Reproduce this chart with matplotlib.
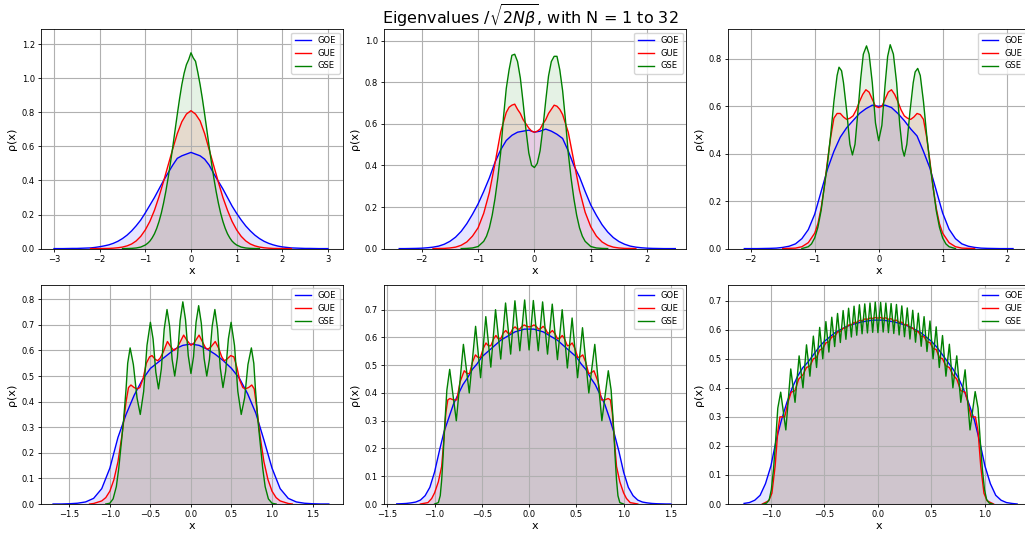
import numpy as np
import matplotlib
matplotlib.use("Agg")
import matplotlib.pyplot as plt

# ---------------- data ----------------
# N = 1
n1_goe_x = np.linspace(-3.0, 3.0, 61)
n1_goe = [0, 0, 0, 0.0005, 0.001, 0.001, 0.002, 0.003, 0.004, 0.007,
          0.011, 0.016, 0.022, 0.031, 0.043, 0.059, 0.079, 0.104, 0.134, 0.168,
          0.21, 0.255, 0.30, 0.35, 0.40, 0.445, 0.49, 0.53, 0.545, 0.555,
          0.565,
          0.555, 0.545, 0.525, 0.49, 0.44, 0.395, 0.35, 0.30, 0.25, 0.207,
          0.168, 0.133, 0.104, 0.079, 0.059, 0.043, 0.031, 0.022, 0.015, 0.010,
          0.007, 0.004, 0.003, 0.002, 0.001, 0.001, 0.0005, 0, 0, 0]
n1_gue_x = np.linspace(-2.2, 2.2, 45)
n1_gue = [0, 0, 0.0003, 0.0005, 0.001, 0.0025, 0.005, 0.009, 0.016, 0.027,
          0.045, 0.072, 0.11, 0.16, 0.225, 0.305, 0.395, 0.49, 0.585, 0.675,
          0.745, 0.79, 0.81,
          0.79, 0.75, 0.675, 0.58, 0.485, 0.39, 0.30, 0.225, 0.16, 0.11,
          0.072, 0.045, 0.027, 0.016, 0.009, 0.005, 0.0025, 0.001, 0.0005, 0.0003,
          0, 0]
n1_gse_x = [-1.5, -1.4, -1.3, -1.2, -1.1, -1.0, -0.95, -0.9, -0.85, -0.8,
            -0.75, -0.7, -0.65, -0.6, -0.55, -0.5, -0.45, -0.4, -0.35, -0.3,
            -0.25, -0.2, -0.15, -0.1, -0.05, 0.0, 0.05, 0.1, 0.15, 0.2,
            0.25, 0.3, 0.35, 0.4, 0.45, 0.5, 0.55, 0.6, 0.65, 0.7,
            0.75, 0.8, 0.85, 0.9, 0.95, 1.0, 1.1, 1.2, 1.3, 1.4, 1.5]
n1_gse = [0, 0.0004, 0.0013, 0.0036, 0.009, 0.021, 0.031, 0.044, 0.063, 0.087,
          0.119, 0.159, 0.208, 0.268, 0.337, 0.416, 0.503, 0.595, 0.692, 0.788,
          0.88, 0.963, 1.03, 1.08, 1.11, 1.15, 1.12, 1.10, 1.035, 0.963,
          0.88, 0.788, 0.692, 0.595, 0.503, 0.416, 0.337, 0.268, 0.208, 0.159,
          0.119, 0.087, 0.063, 0.044, 0.031, 0.021, 0.009, 0.0036, 0.0013, 0.0004, 0]

# N = 2
n2_goe_x = np.linspace(-2.4, 2.5, 50)
n2_goe = [0, 0, 0.0005, 0.001, 0.002, 0.004, 0.007, 0.012, 0.021, 0.035,
          0.055, 0.083, 0.12, 0.165, 0.215, 0.275, 0.34, 0.415, 0.475, 0.52,
          0.545, 0.56, 0.565, 0.57,
          0.56,
          0.565, 0.575, 0.565, 0.55, 0.53, 0.47, 0.40, 0.345, 0.275, 0.21,
          0.16, 0.115, 0.08, 0.053, 0.034, 0.021, 0.012, 0.007, 0.004, 0.002,
          0.001, 0.0005, 0, 0, 0]
n2_gue_x = [-1.8, -1.6, -1.5, -1.4, -1.3, -1.2, -1.1, -1.0, -0.9, -0.8,
            -0.7, -0.6, -0.5, -0.45, -0.4, -0.35, -0.3, -0.25, -0.2, -0.15,
            -0.1, -0.05, 0.0, 0.05, 0.1, 0.15, 0.2, 0.25, 0.3, 0.35,
            0.4, 0.45, 0.5, 0.6, 0.7, 0.8, 0.9, 1.0, 1.1, 1.2,
            1.3, 1.4, 1.5, 1.6, 1.8]
n2_gue = [0, 0.001, 0.003, 0.007, 0.016, 0.032, 0.06, 0.10, 0.17, 0.27,
          0.41, 0.56, 0.655, 0.68, 0.69, 0.695, 0.67, 0.65, 0.62, 0.60,
          0.58, 0.565, 0.56, 0.565, 0.575, 0.60, 0.62, 0.65, 0.67, 0.69,
          0.685, 0.67, 0.645, 0.56, 0.42, 0.28, 0.175, 0.105, 0.06, 0.032,
          0.016, 0.007, 0.003, 0.001, 0]
n2_gse_x = [-1.3, -1.2, -1.1, -1.0, -0.9, -0.85, -0.8, -0.75, -0.7, -0.65,
            -0.6, -0.55, -0.5, -0.45, -0.4, -0.35, -0.3, -0.25, -0.2, -0.15,
            -0.1, -0.05, 0.0, 0.05, 0.1, 0.15, 0.2, 0.25, 0.3, 0.35,
            0.4, 0.45, 0.5, 0.55, 0.6, 0.65, 0.7, 0.75, 0.8, 0.85,
            0.9, 1.0, 1.1, 1.2, 1.3]
n2_gse = [0, 0.001, 0.003, 0.01, 0.035, 0.06, 0.10, 0.16, 0.24, 0.34,
          0.46, 0.63, 0.77, 0.86, 0.93, 0.935, 0.90, 0.82, 0.70, 0.57,
          0.46, 0.40, 0.39, 0.41, 0.47, 0.58, 0.71, 0.83, 0.90, 0.925,
          0.925, 0.86, 0.76, 0.62, 0.46, 0.34, 0.24, 0.16, 0.10, 0.06,
          0.035, 0.01, 0.003, 0.001, 0]

# N = 4
n4_goe_x = np.linspace(-2.1, 2.1, 43)
n4_goe = [0, 0, 0, 0.0005, 0.001, 0.002, 0.005, 0.01, 0.02, 0.042,
          0.08, 0.145, 0.24, 0.335, 0.41, 0.47, 0.51, 0.54, 0.57, 0.59,
          0.605,
          0.60,
          0.605, 0.595, 0.57, 0.54, 0.505, 0.475, 0.41, 0.34, 0.245, 0.15,
          0.082, 0.042, 0.02, 0.01, 0.005, 0.002, 0.001, 0.0005, 0, 0,
          0]
n4_gue_x = [-1.5, -1.3, -1.2, -1.1, -1.0, -0.95, -0.9, -0.85, -0.8, -0.75,
            -0.7, -0.65, -0.6, -0.55, -0.5, -0.45, -0.4, -0.35, -0.3, -0.25,
            -0.2, -0.15, -0.1, -0.05, 0.0, 0.05, 0.1, 0.15, 0.2, 0.25,
            0.3, 0.35, 0.4, 0.45, 0.5, 0.55, 0.6, 0.65, 0.7, 0.75,
            0.8, 0.85, 0.9, 0.95, 1.0, 1.1, 1.2, 1.3, 1.5]
n4_gue = [0, 0.002, 0.008, 0.025, 0.065, 0.105, 0.17, 0.26, 0.37, 0.47,
          0.55, 0.57, 0.57, 0.555, 0.545, 0.55, 0.56, 0.585, 0.62, 0.65,
          0.67, 0.66, 0.63, 0.60, 0.595, 0.60, 0.63, 0.66, 0.67, 0.65,
          0.62, 0.585, 0.56, 0.55, 0.545, 0.555, 0.57, 0.565, 0.545, 0.47,
          0.37, 0.26, 0.17, 0.105, 0.065, 0.025, 0.008, 0.002, 0]
n4_gse_x = [-1.2, -1.1, -1.05, -1.0, -0.95, -0.9, -0.85, -0.8, -0.75, -0.7,
            -0.65, -0.62, -0.58, -0.55, -0.5, -0.45, -0.41, -0.37, -0.33, -0.28,
            -0.24, -0.19, -0.15, -0.1, -0.05, 0.0, 0.05, 0.1, 0.14, 0.18,
            0.23, 0.28, 0.33, 0.37, 0.40, 0.44, 0.49, 0.54, 0.57, 0.61,
            0.65, 0.7, 0.75, 0.8, 0.85, 0.9, 0.95, 1.0, 1.05, 1.1, 1.2]
n4_gse = [0, 0.008, 0.02, 0.045, 0.09, 0.16, 0.26, 0.36, 0.48, 0.62,
          0.73, 0.765, 0.75, 0.70, 0.58, 0.44, 0.395, 0.44, 0.56, 0.72,
          0.82, 0.855, 0.82, 0.70, 0.53, 0.455, 0.52, 0.69, 0.81, 0.86,
          0.82, 0.70, 0.52, 0.42, 0.39, 0.44, 0.58, 0.70, 0.745, 0.76,
          0.73, 0.62, 0.48, 0.36, 0.26, 0.16, 0.09, 0.045, 0.02, 0.008, 0]

# N = 8
n8_goe_x = np.linspace(-1.7, 1.7, 35)
n8_goe = [0, 0, 0.001, 0.003, 0.008, 0.022, 0.06, 0.14, 0.26, 0.35,
          0.425, 0.485, 0.53, 0.555, 0.58, 0.605, 0.62,
          0.625,
          0.62, 0.605, 0.585, 0.56, 0.53, 0.49, 0.43, 0.355, 0.25, 0.14,
          0.06, 0.022, 0.008, 0.003, 0.001, 0, 0]
n8_gue_x = [-1.25, -1.2, -1.1, -1.05, -1.0, -0.95, -0.9, -0.85, -0.8, -0.77,
            -0.74, -0.7, -0.66, -0.63, -0.59, -0.55, -0.51, -0.48, -0.44, -0.41,
            -0.38, -0.34, -0.29, -0.25, -0.21, -0.17, -0.13, -0.09, -0.05, 0.0,
            0.04, 0.1, 0.14, 0.18, 0.21, 0.25, 0.3, 0.34, 0.38, 0.41,
            0.44, 0.49, 0.53, 0.57, 0.6, 0.64, 0.67, 0.71, 0.75, 0.78,
            0.81, 0.85, 0.9, 0.95, 1.0, 1.05, 1.1, 1.2, 1.25]
n8_gue = [0, 0.002, 0.012, 0.025, 0.05, 0.095, 0.165, 0.27, 0.40, 0.455,
          0.465, 0.455, 0.45, 0.455, 0.49, 0.55, 0.575, 0.58, 0.565, 0.56,
          0.57, 0.595, 0.635, 0.615, 0.60, 0.61, 0.635, 0.66, 0.64, 0.62,
          0.63, 0.66, 0.635, 0.61, 0.605, 0.615, 0.635, 0.61, 0.575, 0.56,
          0.565, 0.58, 0.575, 0.53, 0.485, 0.455, 0.45, 0.455, 0.465, 0.45,
          0.38, 0.27, 0.165, 0.095, 0.05, 0.025, 0.012, 0.002, 0]
n8_gse_x = [-1.05, -1.0, -0.96, -0.92, -0.89, -0.855, -0.83, -0.80, -0.78, -0.75,
            -0.71, -0.665, -0.625, -0.583, -0.542, -0.50, -0.467, -0.433, -0.40, -0.365,
            -0.33, -0.295, -0.263, -0.232, -0.20, -0.167, -0.133, -0.10, -0.067, -0.033,
            0.0, 0.032, 0.063, 0.095, 0.128, 0.162, 0.195, 0.228, 0.262, 0.295,
            0.328, 0.362, 0.395, 0.428, 0.462, 0.495, 0.537, 0.578, 0.62, 0.662,
            0.703, 0.745, 0.775, 0.795, 0.825, 0.85, 0.885, 0.915, 0.955, 1.0,
            1.05]
n8_gse = [0, 0.003, 0.02, 0.068, 0.14, 0.25, 0.33, 0.45, 0.55, 0.61,
          0.545, 0.415, 0.35, 0.44, 0.62, 0.71, 0.645, 0.515, 0.45, 0.528,
          0.683, 0.76, 0.695, 0.565, 0.50, 0.573, 0.718, 0.79, 0.72, 0.58,
          0.51, 0.576, 0.71, 0.775, 0.706, 0.569, 0.50, 0.565, 0.695, 0.76,
          0.684, 0.531, 0.455, 0.519, 0.646, 0.71, 0.62, 0.44, 0.35, 0.415,
          0.545, 0.61, 0.55, 0.45, 0.33, 0.25, 0.14, 0.068, 0.02, 0.003,
          0]

# N = 16
n16_goe_x = np.linspace(-1.4, 1.5, 59)
n16_goe = [0.0005, 0.001, 0.002, 0.004, 0.007, 0.014, 0.03, 0.06, 0.115, 0.19,
           0.26, 0.31, 0.36, 0.395, 0.43, 0.455, 0.485, 0.505, 0.53, 0.545,
           0.56, 0.575, 0.59, 0.60, 0.61, 0.62, 0.625, 0.63,
           0.63,
           0.63, 0.625, 0.62, 0.61, 0.60, 0.59, 0.575, 0.56, 0.545, 0.53,
           0.505, 0.485, 0.455, 0.43, 0.395, 0.36, 0.31, 0.255, 0.19, 0.115,
           0.06, 0.03, 0.014, 0.007, 0.004, 0.002, 0.001, 0.0005, 0, 0]
n16_gue_x = [-1.15, -1.07, -1.03, -1.0, -0.96, -0.925, -0.9, -0.88, -0.86, -0.837,
             -0.80, -0.765, -0.73, -0.686, -0.655, -0.63, -0.60, -0.568, -0.54, -0.515,
             -0.485, -0.456, -0.43, -0.405, -0.375, -0.351, -0.325, -0.30, -0.275, -0.247,
             -0.222, -0.197, -0.172, -0.148, -0.124, -0.10, -0.075, -0.051, -0.025, 0.0,
             0.025, 0.051, 0.075, 0.10, 0.124, 0.148, 0.172, 0.197, 0.222, 0.247,
             0.275, 0.30, 0.325, 0.351, 0.375, 0.405, 0.43, 0.456, 0.485, 0.515,
             0.54, 0.568, 0.60, 0.63, 0.655, 0.686, 0.73, 0.765, 0.80, 0.837,
             0.86, 0.88, 0.9, 0.925, 0.96, 1.0, 1.03, 1.07, 1.15]
n16_gue = [0, 0.005, 0.02, 0.04, 0.08, 0.135, 0.24, 0.33, 0.375, 0.38,
           0.375, 0.375, 0.44, 0.48, 0.47, 0.47, 0.51, 0.537, 0.528, 0.528,
           0.56, 0.58, 0.57, 0.57, 0.595, 0.607, 0.595, 0.595, 0.615, 0.625,
           0.615, 0.615, 0.632, 0.638, 0.63, 0.63, 0.64, 0.645, 0.64, 0.638,
           0.64, 0.645, 0.64, 0.63, 0.632, 0.64, 0.632, 0.615, 0.617, 0.625,
           0.613, 0.595, 0.597, 0.607, 0.595, 0.57, 0.572, 0.58, 0.56, 0.528,
           0.53, 0.537, 0.51, 0.47, 0.472, 0.48, 0.44, 0.375, 0.375, 0.38,
           0.375, 0.33, 0.24, 0.135, 0.08, 0.04, 0.02, 0.005, 0]
n16_gse_x = [-1.0, -0.96, -0.94, -0.925, -0.91, -0.895, -0.87, -0.84, -0.77, -0.695,
             -0.633, -0.566, -0.513, -0.458, -0.405, -0.355, -0.30, -0.249, -0.195, -0.15,
             -0.098, -0.047, 0.0, 0.045, 0.097, 0.143, 0.195, 0.245, 0.30, 0.35,
             0.405, 0.455, 0.513, 0.565, 0.632, 0.695, 0.77, 0.838, 0.868, 0.895,
             0.91, 0.925, 0.94, 0.96, 1.0]
n16_gse = [0, 0.005, 0.03, 0.086, 0.17, 0.27, 0.41, 0.485, 0.30, 0.575,
           0.40, 0.64, 0.455, 0.675, 0.493, 0.70, 0.522, 0.724, 0.54, 0.732,
           0.552, 0.735, 0.555, 0.733, 0.552, 0.728, 0.54, 0.72, 0.52, 0.70,
           0.49, 0.67, 0.455, 0.635, 0.40, 0.575, 0.30, 0.48, 0.41, 0.27,
           0.17, 0.086, 0.03, 0.005, 0]

# N = 32
n32_goe_x = np.linspace(-1.25, 1.3, 52)
n32_goe = [0.002, 0.005, 0.013, 0.03, 0.07, 0.13, 0.22, 0.29, 0.35, 0.40,
           0.44, 0.47, 0.49, 0.515, 0.54, 0.56, 0.575, 0.59, 0.60, 0.61,
           0.617, 0.622, 0.627, 0.63, 0.633,
           0.633,
           0.633, 0.63, 0.627, 0.622, 0.617, 0.61, 0.60, 0.59, 0.575, 0.56,
           0.54, 0.515, 0.49, 0.465, 0.435, 0.395, 0.345, 0.29, 0.215, 0.13,
           0.07, 0.03, 0.013, 0.005, 0.002, 0]
n32_gue_x = [-1.08, -1.02, -0.99, -0.96, -0.935, -0.915, -0.87, -0.84, -0.81, -0.775,
             -0.74, -0.70, -0.667, -0.635, -0.603, -0.573, -0.544, -0.515, -0.486, -0.458,
             -0.431, -0.404, -0.377, -0.351, -0.325, -0.299, -0.274, -0.248, -0.223, -0.198,
             -0.173, -0.148, -0.123, -0.098, -0.074, -0.049, -0.025, 0.0, 0.025, 0.049,
             0.074, 0.098, 0.123, 0.148, 0.173, 0.198, 0.223, 0.248, 0.274, 0.299,
             0.325, 0.351, 0.377, 0.404, 0.431, 0.458, 0.486, 0.515, 0.544, 0.573,
             0.603, 0.635, 0.667, 0.70, 0.736, 0.774, 0.814, 0.84, 0.87, 0.91,
             0.935, 0.96, 0.99, 1.02, 1.08]
n32_gue = [0, 0.011, 0.037, 0.13, 0.25, 0.30, 0.30, 0.35, 0.385, 0.39,
           0.43, 0.445, 0.47, 0.475, 0.50, 0.505, 0.53, 0.535, 0.555, 0.558,
           0.575, 0.577, 0.592, 0.594, 0.605, 0.606, 0.616, 0.617, 0.625, 0.625,
           0.632, 0.631, 0.637, 0.636, 0.64, 0.639, 0.642, 0.64, 0.642, 0.639,
           0.641, 0.636, 0.638, 0.631, 0.633, 0.625, 0.626, 0.617, 0.617, 0.606,
           0.606, 0.594, 0.593, 0.577, 0.576, 0.558, 0.556, 0.535, 0.532, 0.505,
           0.50, 0.475, 0.47, 0.445, 0.43, 0.39, 0.385, 0.35, 0.30, 0.30,
           0.25, 0.13, 0.037, 0.011, 0]
n32_gse_x = [-1.07, -1.04, -1.015, -0.995, -0.975, -0.955, -0.935,
             -0.908, -0.86, -0.814, -0.774, -0.736, -0.70, -0.667, -0.635, -0.603, -0.573,
             -0.544, -0.515, -0.486, -0.458, -0.431, -0.404, -0.377, -0.351, -0.325, -0.299,
             -0.274, -0.248, -0.223, -0.198, -0.173, -0.148, -0.123, -0.098, -0.074, -0.049,
             -0.025, 0.0, 0.025, 0.049, 0.074, 0.098, 0.123, 0.148, 0.173, 0.198,
             0.223, 0.248, 0.274, 0.299, 0.325, 0.351, 0.377, 0.404, 0.431, 0.458,
             0.486, 0.515, 0.544, 0.573, 0.603, 0.635, 0.667, 0.70, 0.736, 0.774,
             0.814, 0.86, 0.908,
             0.935, 0.955, 0.975, 0.995, 1.015, 1.04, 1.07]
n32_gse = [0, 0.003, 0.015, 0.05, 0.12, 0.22, 0.33,
           0.385, 0.255, 0.465, 0.35, 0.51, 0.40, 0.548, 0.44, 0.578, 0.47,
           0.608, 0.50, 0.628, 0.523, 0.643, 0.542, 0.656, 0.556, 0.666, 0.567,
           0.674, 0.575, 0.681, 0.581, 0.686, 0.586, 0.689, 0.589, 0.692, 0.591,
           0.695, 0.59, 0.694, 0.592, 0.692, 0.59, 0.69, 0.587, 0.687, 0.582,
           0.682, 0.576, 0.675, 0.568, 0.667, 0.557, 0.657, 0.543, 0.645, 0.525,
           0.63, 0.50, 0.61, 0.47, 0.58, 0.44, 0.55, 0.40, 0.51, 0.35,
           0.462, 0.255, 0.387,
           0.33, 0.22, 0.12, 0.05, 0.015, 0.003, 0]

panel_N = [1, 2, 4, 8, 16, 32]
panel_data = [
    (n1_goe_x, n1_goe, n1_gue_x, n1_gue, n1_gse_x, n1_gse),
    (n2_goe_x, n2_goe, n2_gue_x, n2_gue, n2_gse_x, n2_gse),
    (n4_goe_x, n4_goe, n4_gue_x, n4_gue, n4_gse_x, n4_gse),
    (n8_goe_x, n8_goe, n8_gue_x, n8_gue, n8_gse_x, n8_gse),
    (n16_goe_x, n16_goe, n16_gue_x, n16_gue, n16_gse_x, n16_gse),
    (n32_goe_x, n32_goe, n32_gue_x, n32_gue, n32_gse_x, n32_gse),
]
panel_xlim = [(-3.285, 3.33), (-2.67, 2.69), (-2.355, 2.365),
              (-1.849, 1.875), (-1.535, 1.66), (-1.40, 1.42)]
panel_ylim = [(0, 1.288), (0, 1.055), (0, 0.925),
              (0, 0.857), (0, 0.790), (0, 0.755)]
ensembles = ["GOE", "GUE", "GSE"]
colors = ["blue", "red", "green"]

# ---------------- figure ----------------
W, H = 1025, 534
fig = plt.figure(figsize=(W / 100, H / 100), dpi=100)
col_left = [41, 384, 728]
row_top = [29.3, 284.7]
ax_w, ax_h = 302, 219.3

for i, data in enumerate(panel_data):
    r, c = divmod(i, 3)
    ax = fig.add_axes([col_left[c] / W, (H - row_top[r] - ax_h) / H, ax_w / W, ax_h / H])
    for k in range(3):
        x = np.asarray(data[2 * k], dtype=float)
        y = np.asarray(data[2 * k + 1], dtype=float)
        ax.plot(x, y, color=colors[k], lw=1.0, label=ensembles[k])
        ax.fill_between(x, y, color=colors[k], alpha=0.1, lw=0)
    ax.set_xlim(*panel_xlim[i])
    ax.set_ylim(*panel_ylim[i])
    ax.grid(True, color="#b0b0b0", lw=0.8)
    ax.set_xlabel("x", fontsize=8, labelpad=1.5)
    ax.set_ylabel("ρ(x)", fontsize=8, labelpad=3)
    ax.tick_params(labelsize=6, length=2.5, width=0.6, pad=2)
    for s in ax.spines.values():
        s.set_linewidth(0.6)
    ax.legend(loc="upper right", fontsize=6, borderaxespad=0.4, handlelength=2.0,
              labelspacing=0.45, borderpad=0.4, framealpha=0.8)

fig.suptitle(r"Eigenvalues $/\sqrt{2N\beta}$, with N = 1 to 32",
             x=0.517, y=0.995, fontsize=11.5)
fig.savefig("out.png", dpi=100)
